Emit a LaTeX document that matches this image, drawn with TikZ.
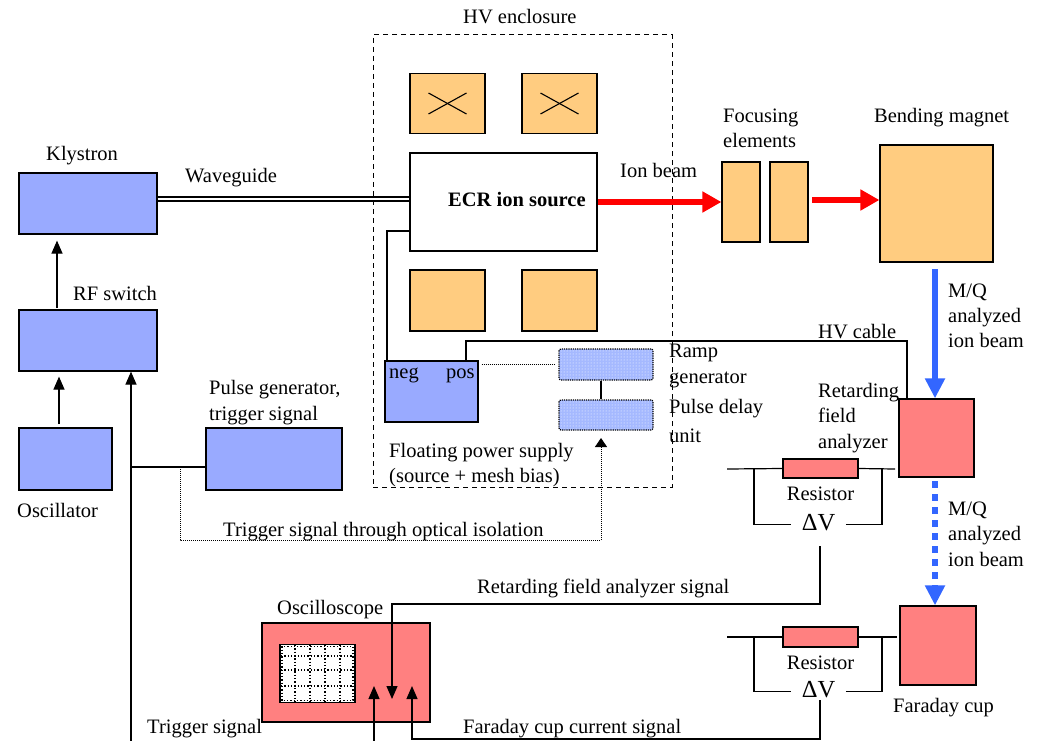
\documentclass[tikz,border=0pt]{standalone}
\usepackage{fontspec}
\setmainfont{Liberation Serif}
\newfontfamily\tnr{Liberation Serif}
\usetikzlibrary{arrows.meta,patterns}
\definecolor{myblue}{RGB}{153,170,255}
\definecolor{lightblue}{RGB}{165,185,255}
\definecolor{myorange}{RGB}{255,204,128}
\definecolor{mypink}{RGB}{255,128,128}
\definecolor{beamblue}{RGB}{51,102,255}
\definecolor{beamred}{RGB}{255,0,0}
\begin{document}
\begin{tikzpicture}[x=1pt,y=-1pt,
  every node/.style={font=\tnr\fontsize{20.5}{25}\selectfont},
  box/.style={draw,line width=1.2pt,rectangle,inner sep=0pt},
  bbox/.style={box,fill=myblue},
  obox/.style={box,fill=myorange},
  rbox/.style={box,fill=mypink},
  dbox/.style={draw,densely dotted,line width=1.2pt,rectangle,rounded corners=2pt,inner sep=0pt,
               preaction={fill=lightblue},pattern=dots,pattern color=white},
  lbl/.style={inner sep=0pt,anchor=base west},
  clbl/.style={inner sep=0pt,anchor=base},
  wire/.style={line width=1.2pt},
  sig/.style={wire,-{Triangle[length=13pt,width=11pt]}},
  redbeam/.style={line width=6pt,beamred,-{Triangle[length=19pt,width=20pt]}},
  bluebeam/.style={line width=5.5pt,beamblue,-{Triangle[length=20pt,width=19pt]}},
  optic/.style={densely dotted,line width=1pt,-{Triangle[length=9pt,width=12pt]}},
  dvlbl/.style={inner xsep=10.5pt,inner ysep=0pt,anchor=base,font=\tnr\fontsize{24.5}{28}\selectfont}
]
\useasboundingbox (0,0) rectangle (1038,741);

% HV enclosure
\node[draw,dash pattern=on 5pt off 4pt,line width=1pt,rectangle,inner sep=0pt,
      minimum width=299pt,minimum height=452pt] (encl) at (522.5,261) {};
\node[lbl] (hvl) at (463,24) {HV enclosure};

% left column
\node[bbox,minimum width=138pt,minimum height=61pt] (klys) at (88,203.5) {};
\node[bbox,minimum width=138pt,minimum height=61pt] (rfsw) at (88,340.5) {};
\node[bbox,minimum width=93pt,minimum height=62pt] (osc) at (65.5,459) {};
\node[bbox,minimum width=136pt,minimum height=62pt] (pulse) at (274,459) {};
\node[lbl] (klysl) at (46,160) {Klystron};
\node[lbl] (wgl) at (185,182) {Waveguide};
\node[lbl] (rfl) at (73,300) {RF switch};
\node[lbl] (pgl1) at (209,394) {Pulse generator,};
\node[lbl] (pgl2) at (209,420) {trigger signal};
\node[lbl] (oscl) at (17,517) {Oscillator};

% coils and source
\node[obox,minimum width=75pt,minimum height=60pt] (coil1) at (447.5,103.5) {};
\node[obox,minimum width=75pt,minimum height=60pt] (coil2) at (559.5,103.5) {};
\node[box,fill=white,minimum width=187pt,minimum height=98pt] (ecr) at (503.5,202) {};
\node[obox,minimum width=75pt,minimum height=61pt] (coil3) at (447.5,300.5) {};
\node[obox,minimum width=75pt,minimum height=61pt] (coil4) at (559.5,300.5) {};
\foreach \c in {coil1,coil2}{
  \draw[line width=1.1pt] ([shift={(-19pt,10.5pt)}]\c.center) -- ([shift={(19pt,-10.5pt)}]\c.center);
  \draw[line width=1.1pt] ([shift={(-19pt,-10.5pt)}]\c.center) -- ([shift={(19pt,10.5pt)}]\c.center);
}
\node[lbl,font=\tnr\fontsize{20.5}{25}\selectfont\bfseries] (ecrl) at (448,206) {ECR ion source};

% floating supply, ramp, pulse delay
\node[bbox,minimum width=93pt,minimum height=61pt] (fps) at (431.5,391.5) {};
\node[lbl] (negl) at (389,378) {neg};
\node[lbl] (posl) at (446,378) {pos};
\node[dbox,minimum width=94pt,minimum height=31pt] (ramp) at (606,364.5) {};
\node[dbox,minimum width=94pt,minimum height=30pt] (pdel) at (606,415) {};
\node[lbl] (rampl1) at (669,357) {Ramp};
\node[lbl] (rampl2) at (669,383) {generator};
\node[lbl] (pdl1) at (669,413) {Pulse delay};
\node[lbl] (pdl2) at (669,442) {unit};
\node[lbl] (fpsl1) at (389,457) {Floating power supply};
\node[lbl] (fpsl2) at (389,482) {(source + mesh bias)};
\node[lbl] (optl) at (223,536) {Trigger signal through optical isolation};

% beamline
\node[obox,minimum width=38pt,minimum height=80pt] (foc1) at (741,202) {};
\node[obox,minimum width=38pt,minimum height=80pt] (foc2) at (789,202) {};
\node[obox,minimum width=113pt,minimum height=117pt] (bend) at (936.5,203.5) {};
\node[lbl] (ionl) at (620,177) {Ion beam};
\node[lbl] (focl1) at (723,122) {Focusing};
\node[lbl] (focl2) at (723,147) {elements};
\node[lbl] (bendl) at (874,123) {Bending magnet};
\node[lbl] (mq1a) at (948,297) {M/Q};
\node[lbl] (mq1b) at (948,322) {analyzed};
\node[lbl] (mq1c) at (948,347) {ion beam};
\node[rbox,minimum width=75pt,minimum height=78pt] (rfa) at (936.5,438) {};
\node[lbl] (hvcl) at (818,338) {HV cable};
\node[lbl] (rfal1) at (818,397) {Retarding};
\node[lbl] (rfal2) at (818,422) {field};
\node[lbl] (rfal3) at (818,448) {analyzer};
\node[lbl] (mq2a) at (948,515) {M/Q};
\node[lbl] (mq2b) at (948,540) {analyzed};
\node[lbl] (mq2c) at (948,566) {ion beam};
\node[rbox,minimum width=76pt,minimum height=79pt] (fc) at (938,645.5) {};
\node[lbl] (fcl) at (893,712) {Faraday cup};

% resistor circuits
\node[rbox,minimum width=75pt,minimum height=19pt] (res1) at (820.5,468.5) {};
\node[clbl] (res1l) at (820.5,500) {Resistor};
\node[dvlbl] (dv1) at (818.5,530) {ΔV};
\node[rbox,minimum width=75pt,minimum height=20pt] (res2) at (820.5,637) {};
\node[clbl] (res2l) at (820.5,669) {Resistor};
\node[dvlbl] (dv2) at (818.5,697) {ΔV};

% oscilloscope
\node[rbox,minimum width=168pt,minimum height=99pt] (scope) at (346,672.5) {};
\node[box,fill=white,minimum width=75pt,minimum height=58pt] (screen) at (317.5,673.5) {};
\draw[dotted,line width=1.3pt] ([shift={(2.5pt,-2.5pt)}]screen.north west) rectangle ([shift={(-2.5pt,2.5pt)}]screen.south east);
\foreach \xx in {295,310,325,340} \draw[dotted,line width=1.3pt] (\xx,645) -- (\xx,702);
\foreach \yy in {656,670,686} \draw[dotted,line width=1.3pt] (281,\yy) -- (354,\yy);
\node[lbl] (scopel) at (277,614) {Oscilloscope};
\node[lbl] (rfasl) at (477,593) {Retarding field analyzer signal};
\node[lbl] (fcsl) at (463,733) {Faraday cup current signal};
\node[lbl] (trgl) at (147,733) {Trigger signal};

% coordinates
\coordinate (wg) at (0,199);
\coordinate (negx) at (387,231);
\coordinate (hv1) at (466,341);
\coordinate (hv2) at (907,341);
\coordinate (tj) at (180,467);
\coordinate (tl) at (131,467);
\coordinate (tbot) at (131,741);
\coordinate (tc) at (180,540);
\coordinate (td) at (601,540);
\coordinate (tdt) at (601,438);
\coordinate (rb) at (0,202);
\coordinate (rb2) at (812,200);
\coordinate (bb1) at (935,269);
\coordinate (bb2) at (935,481);
\coordinate (w1a) at (727,469);
\coordinate (w1b) at (754,469);
\coordinate (w1c) at (882,469);
\coordinate (w1d) at (895,469);
\coordinate (w2a) at (727,637);
\coordinate (w2b) at (754,637);
\coordinate (w2c) at (882,637);
\coordinate (w2d) at (897,637);
\coordinate (s1top) at (820,546);
\coordinate (s1) at (392,604);
\coordinate (s1end) at (392,699);
\coordinate (s2top) at (820,700);
\coordinate (s2) at (412,739);
\coordinate (s2end) at (412,686);
\coordinate (s3bot) at (374,741);
\coordinate (s3end) at (374,686);
\coordinate (oa) at (59,424);
\coordinate (ka) at (57,308);

% connectors
\draw[double,double distance=2.2pt,line width=1.7pt] (klys.east |- wg) -- (ecr.west |- wg);
\draw[wire] (ecr.west |- negx) -| (fps.north -| negx);
\draw[wire] (fps.north -| hv1) -- (hv1) -- (hv2) -- (rfa.north -| hv2);
\draw[densely dotted,line width=1pt] ([xshift=3pt]fps.east |- ramp.west) -- ([xshift=-4pt]ramp.west);
\draw[wire] (ramp.south -| td) -- (pdel.north -| td);
\draw[optic] (tj) -- (tc) -- (td) -- (tdt);
\draw[wire] (pulse.west |- tj) -- (tl);
\draw[sig] (tbot) -- (rfsw.south -| tbot);
\draw[sig] (oa) -- ([yshift=-5pt]rfsw.south -| oa);
\draw[sig] (ka) -- ([yshift=-6pt]klys.south -| ka);

\draw[redbeam] (ecr.east |- rb) -- (foc1.west |- rb);
\draw[redbeam] (rb2) -- (bend.west |- rb2);
\draw[bluebeam] (bb1) -- (rfa.north -| bb1);
\draw[bluebeam,dash pattern=on 6.5pt off 6.5pt] (bb2) -- (fc.north -| bb2);

\draw[wire] (w1a) -- (res1.west);
\draw[wire] (res1.east) -- (w1d);
\draw[wire] (w1b) |- ([yshift=-2pt]dv1.west);
\draw[wire] ([yshift=-2pt]dv1.east) -| (w1c);
\draw[wire] (w2a) -- (res2.west);
\draw[wire] (res2.east) -- (w2d);
\draw[wire] (w2b) |- ([yshift=-2pt]dv2.west);
\draw[wire] ([yshift=-2pt]dv2.east) -| (w2c);

\draw[sig] (s1top) |- (s1) -- (s1end);
\draw[sig] (s2top) |- (s2) -- (s2end);
\draw[sig] (s3bot) -- (s3end);
\end{tikzpicture}
\end{document}
